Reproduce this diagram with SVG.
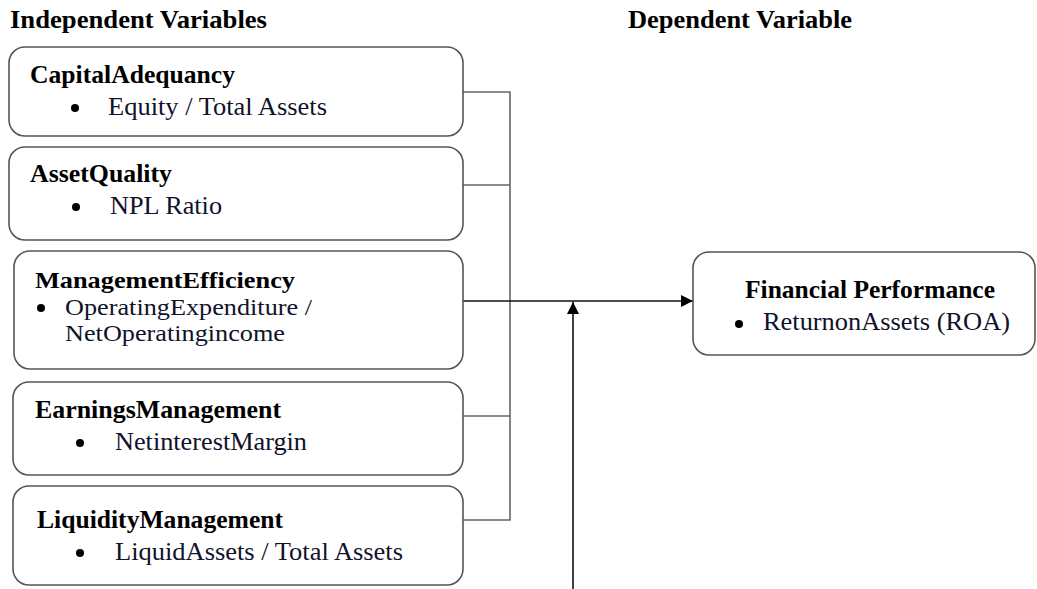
<svg xmlns="http://www.w3.org/2000/svg" width="1037" height="589" viewBox="0 0 1037 589">
<defs>
<style>
.box{fill:#fff;stroke:#555;stroke-width:1.6}
.hd{font-family:"Liberation Serif","Times New Roman",serif;font-weight:bold;font-size:25px;fill:#000}
.tx{font-family:"Liberation Serif","Times New Roman",serif;font-size:25px;fill:#10122a}
.sm{font-size:24px}
.bul{fill:#000}
.br{stroke:#666;stroke-width:1.6;fill:none}
.ar{stroke:#111;stroke-width:1.6;fill:none}
</style>
<marker id="ah" viewBox="0 0 12 12" refX="12" refY="6" markerWidth="12" markerHeight="12" markerUnits="userSpaceOnUse" orient="auto">
<path d="M0,0 L12,6 L0,12 Z" fill="#000"/>
</marker>
</defs>
<rect width="1037" height="589" fill="#fff"/>
<g id="headers">
<text class="hd" x="10" y="28" textLength="257" lengthAdjust="spacingAndGlyphs">Independent Variables</text>
<text class="hd" x="628" y="28" textLength="224" lengthAdjust="spacingAndGlyphs">Dependent Variable</text>
</g>
<g id="connectors">
<polyline class="br" points="463,92 510,92 510,520 463,520"/>
<line class="br" x1="463" y1="185" x2="510" y2="185"/>
<line class="br" x1="463" y1="416" x2="510" y2="416"/>
<line class="ar" x1="463" y1="301" x2="693" y2="301" marker-end="url(#ah)"/>
<line class="ar" x1="573" y1="589" x2="573" y2="302" marker-end="url(#ah)"/>
</g>
<g id="capital">
<rect class="box" x="9" y="47" width="454" height="89" rx="16"/>
<text class="hd" x="30" y="83" textLength="205" lengthAdjust="spacingAndGlyphs">CapitalAdequancy</text>
<circle class="bul" cx="75" cy="108" r="4"/>
<text class="tx" x="108" y="115" textLength="219" lengthAdjust="spacingAndGlyphs">Equity / Total Assets</text>
</g>
<g id="asset">
<rect class="box" x="9" y="147" width="454" height="93" rx="16"/>
<text class="hd" x="30" y="182" textLength="142" lengthAdjust="spacingAndGlyphs">AssetQuality</text>
<circle class="bul" cx="76" cy="207" r="4"/>
<text class="tx" x="110" y="214" textLength="112" lengthAdjust="spacingAndGlyphs">NPL Ratio</text>
</g>
<g id="management">
<rect class="box" x="14" y="251" width="449" height="118" rx="16"/>
<text class="hd sm" x="35" y="288" textLength="260" lengthAdjust="spacingAndGlyphs">ManagementEfficiency</text>
<circle class="bul" cx="41" cy="308" r="4"/>
<text class="tx sm" x="65" y="315" textLength="247" lengthAdjust="spacingAndGlyphs">OperatingExpenditure /</text>
<text class="tx sm" x="65" y="341" textLength="220" lengthAdjust="spacingAndGlyphs">NetOperatingincome</text>
</g>
<g id="earnings">
<rect class="box" x="13" y="382" width="450" height="93" rx="16"/>
<text class="hd" x="35" y="418" textLength="246" lengthAdjust="spacingAndGlyphs">EarningsManagement</text>
<circle class="bul" cx="80" cy="443" r="4"/>
<text class="tx" x="115" y="450" textLength="192" lengthAdjust="spacingAndGlyphs">NetinterestMargin</text>
</g>
<g id="liquidity">
<rect class="box" x="13" y="486" width="450" height="99" rx="16"/>
<text class="hd" x="37" y="528" textLength="246" lengthAdjust="spacingAndGlyphs">LiquidityManagement</text>
<circle class="bul" cx="80" cy="553" r="4"/>
<text class="tx" x="115" y="560" textLength="288" lengthAdjust="spacingAndGlyphs">LiquidAssets / Total Assets</text>
</g>
<g id="performance">
<rect class="box" x="693" y="252" width="342" height="103" rx="16"/>
<text class="hd" x="745" y="298" textLength="250" lengthAdjust="spacingAndGlyphs">Financial Performance</text>
<circle class="bul" cx="739" cy="324" r="4"/>
<text class="tx" x="763" y="330" textLength="247" lengthAdjust="spacingAndGlyphs">ReturnonAssets (ROA)</text>
</g>
</svg>
